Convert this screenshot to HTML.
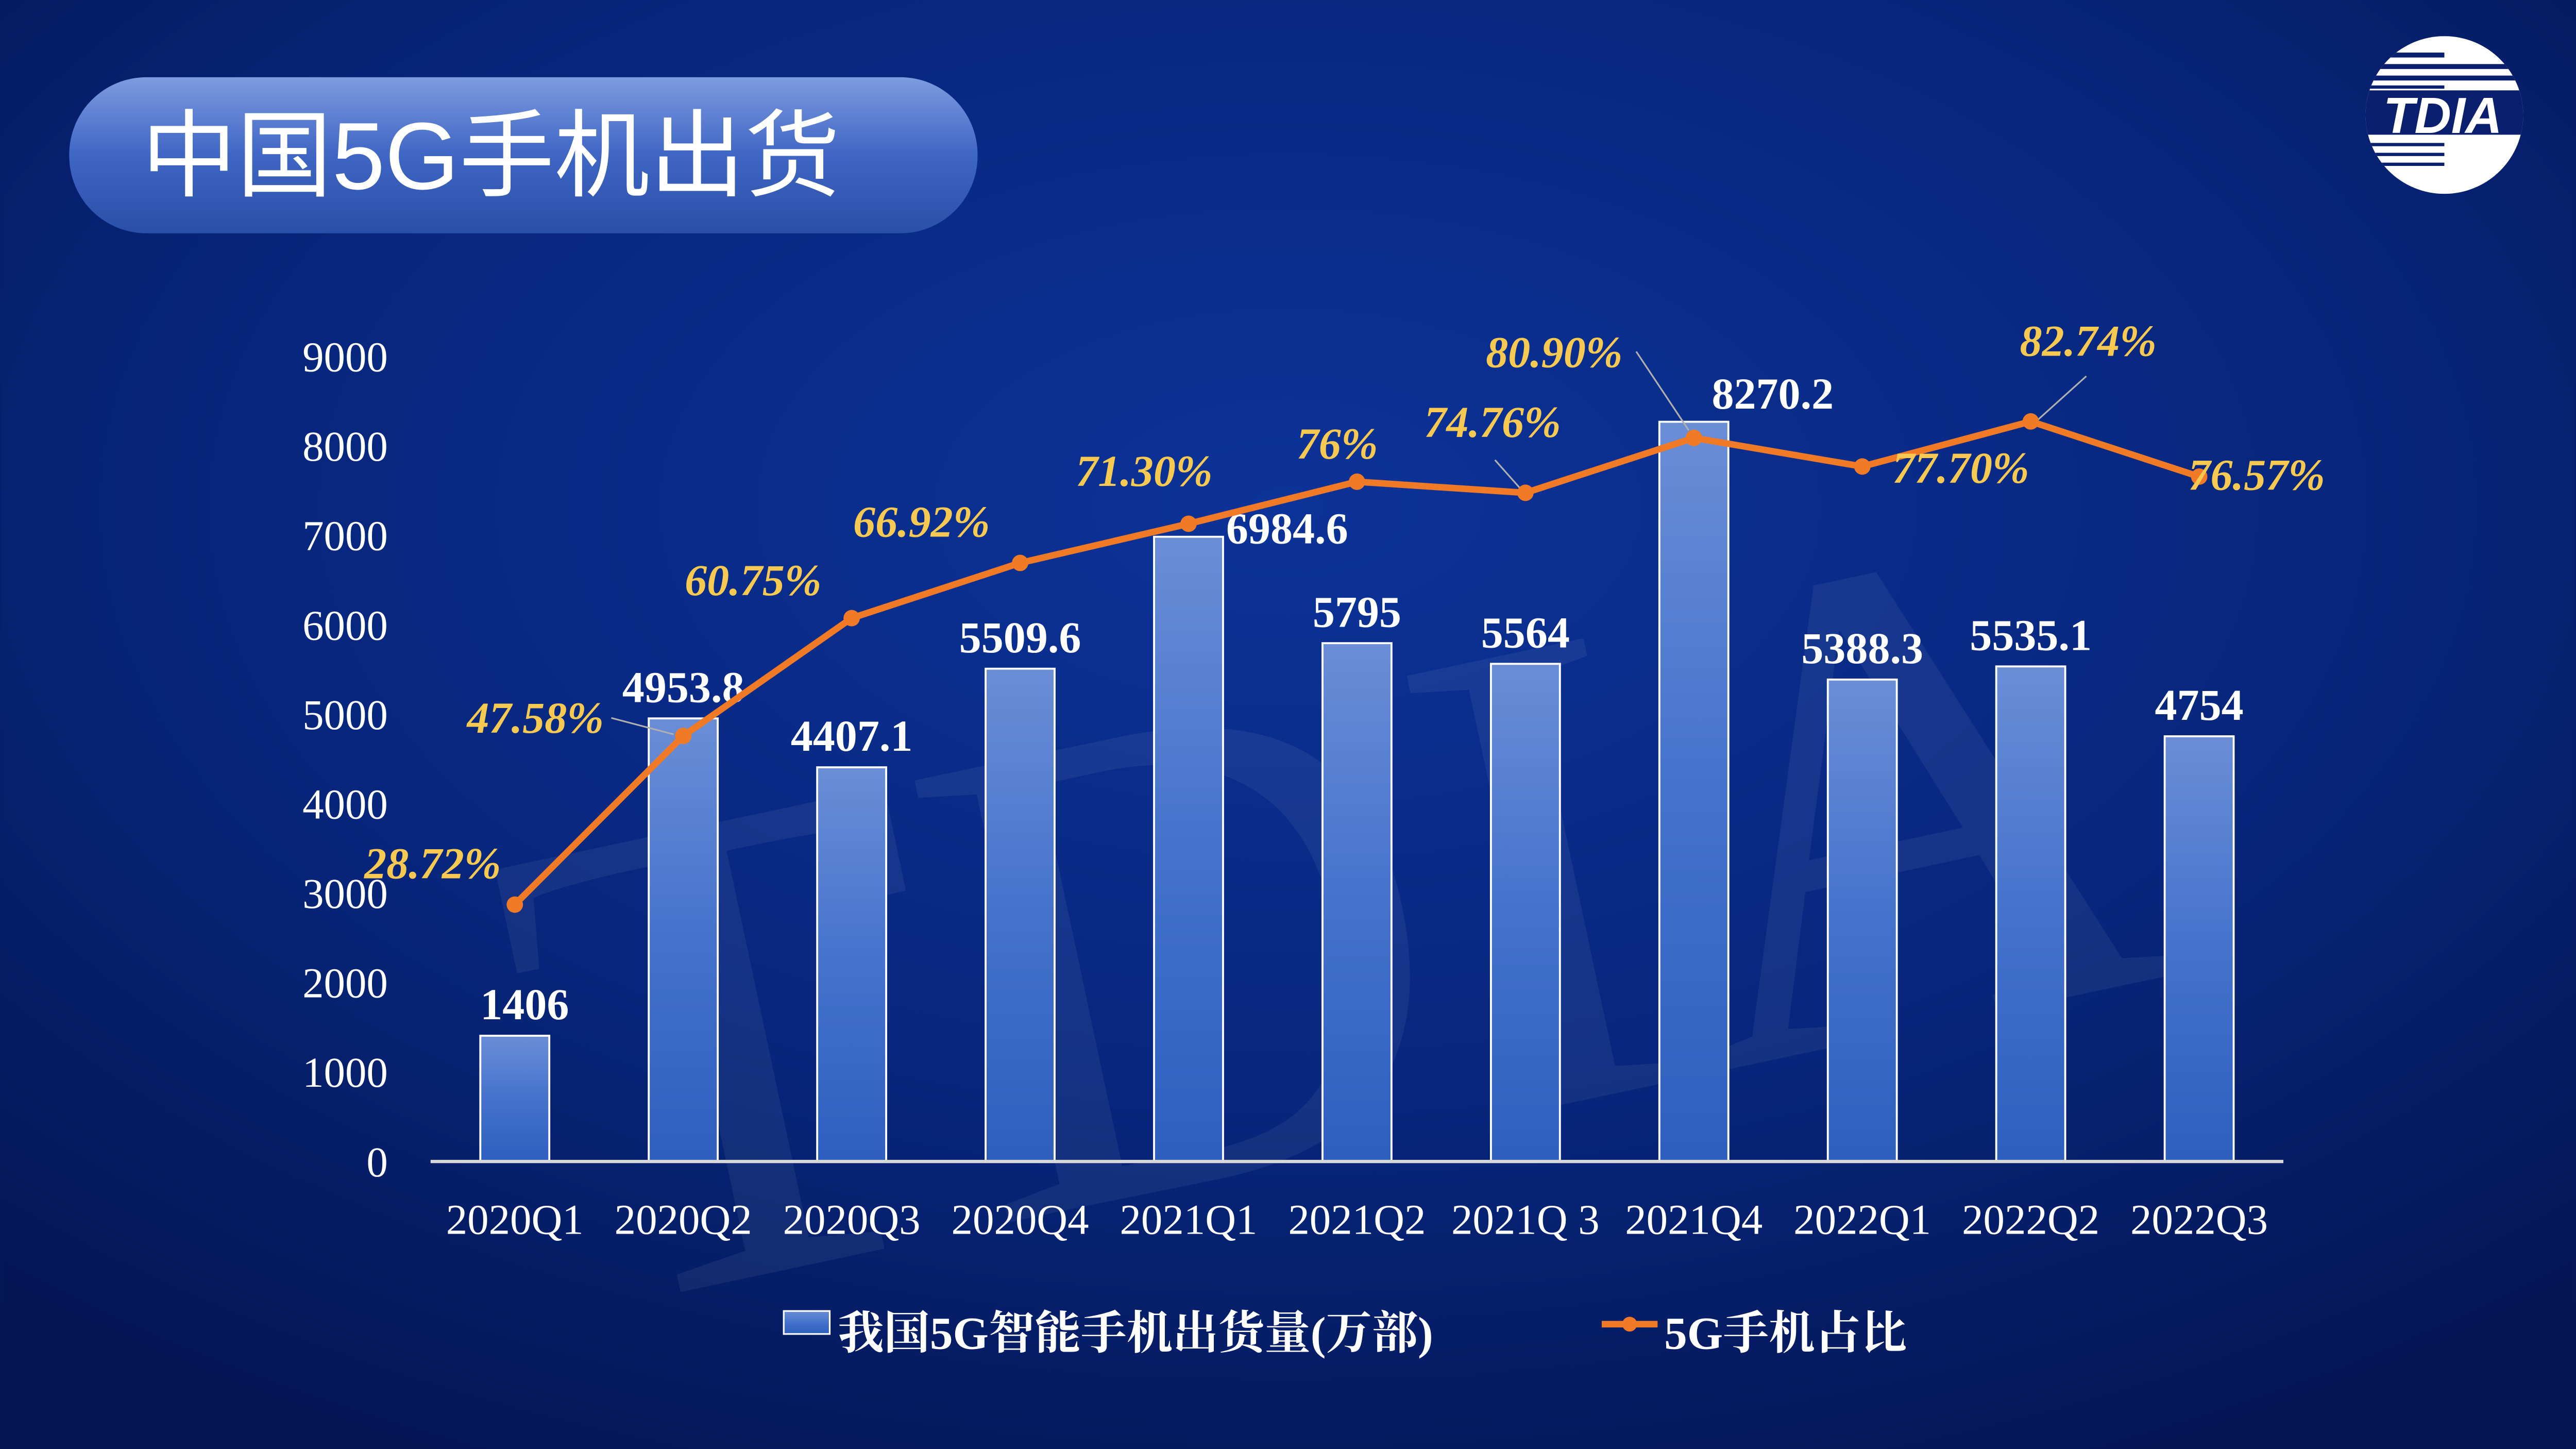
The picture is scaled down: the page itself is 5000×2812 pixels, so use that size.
<!DOCTYPE html>
<html><head><meta charset="utf-8">
<style>
html,body{margin:0;padding:0;background:#061a5e;}
svg{display:block;}
</style></head>
<body>
<svg id="chart" width="5000" height="2812" viewBox="0 0 1568 882" xmlns="http://www.w3.org/2000/svg">
<defs>
<radialGradient id="bg" cx="0.5" cy="0.35" r="0.75">
<stop offset="0" stop-color="#0c3399"/><stop offset="0.55" stop-color="#07267c"/><stop offset="1" stop-color="#041552"/>
</radialGradient>
<linearGradient id="barg" x1="0" y1="0" x2="0" y2="1">
<stop offset="0" stop-color="#6a8ed6"/><stop offset="0.5" stop-color="#4472cc"/><stop offset="1" stop-color="#2e5fbf"/>
</linearGradient>
<linearGradient id="pill" x1="0" y1="0" x2="0" y2="1">
<stop offset="0" stop-color="#7d9be0"/><stop offset="0.5" stop-color="#3f66c4"/><stop offset="1" stop-color="#2a4fa8"/>
</linearGradient>
<clipPath id="logoclip"><circle cx="1488" cy="70" r="48"/></clipPath>
</defs>
<rect x="0" y="0" width="1568" height="882" fill="url(#bg)"/>
<text x="800" y="700" font-family="Liberation Serif, serif" font-size="420" fill="#ffffff" fill-opacity="0.06" transform="rotate(-12 800 500)" text-anchor="middle">TDIA</text>
<rect x="42" y="47" width="553" height="95" rx="47" fill="url(#pill)"/>
<text x="86" y="115" font-family="Liberation Sans, Noto Sans CJK SC, sans-serif" font-size="58" fill="#ffffff">中国5G手机出货</text>
<g>
<g clip-path="url(#logoclip)">
<rect x="1440" y="22" width="96" height="96" fill="#ffffff"/>
<rect x="1440" y="32" width="48" height="3" fill="#0a1f6e"/>
<rect x="1440" y="39" width="96" height="3" fill="#0a1f6e"/>
<rect x="1440" y="46" width="96" height="3" fill="#0a1f6e"/>
<rect x="1440" y="52" width="48" height="2" fill="#0a1f6e"/>
<rect x="1440" y="55" width="96" height="27" fill="#0a1f6e"/>
<rect x="1440" y="87" width="48" height="2" fill="#0a1f6e"/>
<rect x="1440" y="93" width="48" height="2" fill="#0a1f6e"/>
<rect x="1440" y="99" width="48" height="2" fill="#0a1f6e"/>
</g>
<text x="1487" y="81" text-anchor="middle" font-family="Liberation Sans, sans-serif" font-weight="bold" font-style="italic" font-size="31" fill="#ffffff">TDIA</text>
</g>
<g id="plot"></g>
<g>
<rect x="477" y="798" width="28" height="14" fill="url(#barg)" stroke="#fff" stroke-width="1"/>
<text x="510" y="821" font-family="Liberation Serif, Noto Serif CJK SC, serif" font-weight="bold" font-size="28" fill="#ffffff">我国5G智能手机出货量(万部)</text>
<line x1="975" y1="806" x2="1009" y2="806" stroke="#f07a25" stroke-width="4"/>
<circle cx="992" cy="806" r="4.5" fill="#f07a25"/>
<text x="1013" y="821" font-family="Liberation Serif, Noto Serif CJK SC, serif" font-weight="bold" font-size="28" fill="#ffffff">5G手机占比</text>
</g>
</svg>
<script>
const categories=["2020Q1","2020Q2","2020Q3","2020Q4","2021Q1","2021Q2","2021Q 3","2021Q4","2022Q1","2022Q2","2022Q3"];
const shipments=[1406,4953.8,4407.1,5509.6,6984.6,5795,5564,8270.2,5388.3,5535.1,4754];
const shipmentLabels=["1406","4953.8","4407.1","5509.6","6984.6","5795","5564","8270.2","5388.3","5535.1","4754"];
const shares=[28.72,47.58,60.75,66.92,71.30,76,74.76,80.90,77.70,82.74,76.57];
const shareLabels=["28.72%","47.58%","60.75%","66.92%","71.30%","76%","74.76%","80.90%","77.70%","82.74%","76.57%"];
const yTicks=[0,1000,2000,3000,4000,5000,6000,7000,8000,9000];
// layout offsets (label placement, not data)
const barLabelOff=[[6,0],[0,0],[0,0],[0,0],[60,14],[0,0],[0,0],[48,2],[0,0],[0,0],[0,0]];
const shareLabelOff=[[-50,-16],[-90,-2],[-60,-14],[-60,-16],[-27,-23],[-12,-14],[-20,-34],[-85,-43],[60,10],[35,-40],[35,8]];
const leaders={1:[[372,437],[410,447]],6:[[910,280],[926,298]],7:[[996,214],[1028,262]],9:[[1270,229],[1240,256]]};

const NS="http://www.w3.org/2000/svg";
const plot=document.getElementById('plot');
const x0=262,x1=1390,yBase=707,yTop=217,yMax=9000;
const step=(x1-x0)/categories.length;
function xs(i){return x0+step*(i+0.5);}
function ys(v){return yBase-(v/yMax)*(yBase-yTop);}
function mk(tag,attrs,parent){const e=document.createElementNS(NS,tag);for(const k in attrs)e.setAttribute(k,attrs[k]);(parent||plot).appendChild(e);return e;}

yTicks.forEach(t=>{
  const e=mk('text',{x:236,y:ys(t)+9,'text-anchor':'end','font-family':'Liberation Serif, serif','font-size':26,fill:'#ffffff'});
  
  
  e.textContent=t;
});
const bw=42;
shipments.forEach((v,i)=>{
  const r=mk('rect',{x:xs(i)-bw/2,y:ys(v),width:bw,height:yBase-ys(v),fill:'url(#barg)',stroke:'#ffffff','stroke-width':1.2});
  
  
  const t=mk('text',{x:xs(i)+barLabelOff[i][0],y:ys(v)-10+barLabelOff[i][1],'text-anchor':'middle','font-family':'Liberation Serif, serif','font-weight':'bold','font-size':27,fill:'#ffffff'});
  
  
  t.textContent=shipmentLabels[i];
  const c=mk('text',{x:xs(i),y:751,'text-anchor':'middle','font-family':'Liberation Serif, serif','font-size':26,fill:'#ffffff'});
  
  
  c.textContent=categories[i];
});
const ax=mk('line',{x1:x0,y1:yBase,x2:x1,y2:yBase,stroke:'#d8d8d8','stroke-width':2});


Object.keys(leaders).forEach(k=>{
  const p=leaders[k];
  const l=mk('line',{x1:p[0][0],y1:p[0][1],x2:p[1][0],y2:p[1][1],stroke:'#b0b0b0','stroke-width':1});
  
  
});
const pts=shares.map((s,i)=>xs(i)+','+ys(s*100)).join(' ');
const pl=mk('polyline',{points:pts,fill:'none',stroke:'#f07a25','stroke-width':4,'stroke-linejoin':'round'});


shares.forEach((s,i)=>{
  const c=mk('circle',{cx:xs(i),cy:ys(s*100),r:5,fill:'#f07a25'});
  
  
  const t=mk('text',{x:xs(i)+shareLabelOff[i][0],y:ys(s*100)+shareLabelOff[i][1],'text-anchor':'middle','font-family':'Liberation Serif, serif','font-weight':'bold','font-style':'italic','font-size':27,fill:'#f7c950'});
  
  
  t.textContent=shareLabels[i];
});
</script>
</body></html>
